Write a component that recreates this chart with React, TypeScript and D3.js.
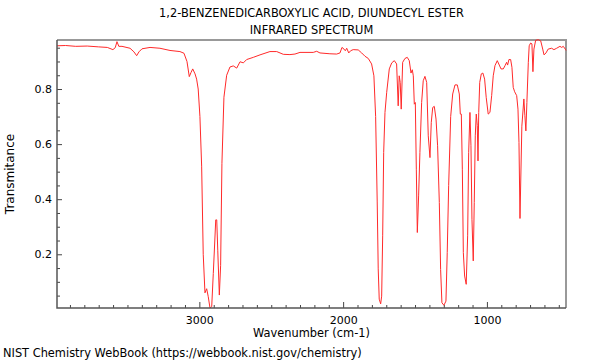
import React, { useRef, useEffect } from 'react';
import * as d3 from 'd3';

// spectrum: wavenumber (cm-1) and transmittance
const wavenumbers = [
  3990, 3930, 3860, 3780, 3700, 3640, 3601, 3585, 3573, 3560, 3538, 3482, 3455, 3436, 3420, 3399,
  3343, 3274, 3204, 3135, 3107, 3086, 3070, 3058, 3046, 3030, 3019, 3008, 2996, 2984, 2973, 2961,
  2949, 2938, 2926, 2914, 2903, 2886, 2879, 2872, 2861, 2852, 2843, 2829, 2810, 2787, 2764, 2740,
  2717, 2694, 2671, 2625, 2578, 2509, 2462, 2416, 2370, 2335, 2300, 2208, 2184, 2161, 2092, 2045,
  2022, 2008, 1994, 1985, 1975, 1961, 1948, 1930, 1895, 1871, 1848, 1825, 1802, 1786, 1774, 1763,
  1756, 1749, 1739, 1732, 1725, 1718, 1709, 1697, 1679, 1662, 1644, 1628, 1617, 1610, 1603, 1596,
  1586, 1570, 1554, 1540, 1528, 1519, 1512, 1505, 1498, 1491, 1484, 1475, 1466, 1454, 1443, 1431,
  1419, 1408, 1396, 1387, 1377, 1366, 1354, 1343, 1331, 1322, 1313, 1299, 1285, 1276, 1266, 1252,
  1238, 1222, 1206, 1192, 1185, 1178, 1171, 1164, 1155, 1144, 1134, 1127, 1118, 1111, 1104, 1095,
  1088, 1081, 1074, 1067, 1062, 1057, 1050, 1039, 1028, 1016, 1005, 991, 979, 967, 956, 944,
  928, 914, 902, 886, 874, 863, 856, 847, 835, 826, 817, 807, 793, 784, 777, 770,
  757, 743, 736, 729, 722, 712, 706, 696, 687, 680, 673, 661, 643, 626, 612, 603,
  589, 574, 550, 534, 515, 492, 480, 469, 455, 450,
];
const transmittance = [
  0.957, 0.958, 0.955, 0.956, 0.953, 0.951, 0.943, 0.95, 0.972, 0.955, 0.955, 0.948, 0.935, 0.921, 0.935, 0.946,
  0.951, 0.948, 0.94, 0.936, 0.93, 0.9, 0.845, 0.86, 0.873, 0.855, 0.836, 0.8, 0.7, 0.52, 0.2, 0.06,
  0.075, 0.046, 0.005, 0.01, 0.13, 0.325, 0.325, 0.215, 0.052, 0.16, 0.53, 0.77, 0.85, 0.88, 0.884, 0.876,
  0.899, 0.895, 0.907, 0.915, 0.924, 0.936, 0.936, 0.926, 0.925, 0.927, 0.933, 0.933, 0.937, 0.931, 0.928, 0.927,
  0.931, 0.951, 0.945, 0.939, 0.948, 0.931, 0.939, 0.943, 0.942, 0.931, 0.919, 0.911, 0.891, 0.848, 0.7, 0.39,
  0.147, 0.037, 0.02, 0.048, 0.267, 0.57, 0.715, 0.788, 0.873, 0.895, 0.903, 0.891, 0.739, 0.848, 0.824, 0.727,
  0.897, 0.911, 0.915, 0.903, 0.858, 0.87, 0.848, 0.745, 0.751, 0.509, 0.279, 0.412, 0.569, 0.751, 0.83, 0.846,
  0.824, 0.63, 0.551, 0.679, 0.733, 0.737, 0.691, 0.594, 0.388, 0.145, 0.024, 0.015, 0.03, 0.206, 0.45, 0.7,
  0.782, 0.815, 0.815, 0.782, 0.709, 0.709, 0.509, 0.206, 0.121, 0.091, 0.267, 0.569, 0.715, 0.594, 0.327, 0.176,
  0.388, 0.63, 0.709, 0.667, 0.539, 0.715, 0.824, 0.855, 0.858, 0.836, 0.77, 0.709, 0.715, 0.776, 0.848, 0.885,
  0.903, 0.887, 0.873, 0.873, 0.885, 0.897, 0.887, 0.907, 0.907, 0.879, 0.806, 0.79, 0.776, 0.727, 0.606, 0.33,
  0.665, 0.764, 0.703, 0.648, 0.751, 0.897, 0.957, 0.967, 0.964, 0.863, 0.945, 0.977, 0.979, 0.975, 0.945, 0.924,
  0.931, 0.945, 0.948, 0.943, 0.948, 0.955, 0.951, 0.955, 0.945, 0.94,
];

const xMajorTicks = [3000, 2000, 1000];
const yMajorTicks = [0.2, 0.4, 0.6, 0.8];
const titleLines = ['1,2-BENZENEDICARBOXYLIC ACID, DIUNDECYL ESTER', 'INFRARED SPECTRUM'];

const App = () => {
  const ref = useRef<SVGSVGElement>(null);

  useEffect(() => {
    const left = 57, right = 566, top = 40, bottom = 308;
    const font = 'DejaVu Sans, sans-serif';
    const fs = '11.4px';

    const svg = d3.select(ref.current);
    svg.selectAll('*').remove();

    const x = d3.scaleLinear().domain([3990, 450]).range([left, right]);
    const y = d3.scaleLinear().domain([0.005, 0.978]).range([bottom, top]);

    // title
    svg.append('g')
      .selectAll('text')
      .data(titleLines)
      .enter()
      .append('text')
      .attr('x', (left + right) / 2)
      .attr('y', (d, i) => 17 + i * 17)
      .attr('text-anchor', 'middle')
      .style('font-family', font)
      .style('font-size', fs)
      .text((d) => d);

    // top + right frame (light)
    svg.append('path')
      .attr('d', `M${left},${top}H${right}V${bottom}`)
      .attr('fill', 'none')
      .attr('stroke', '#999')
      .attr('stroke-width', 2);

    // spectrum
    const pts = wavenumbers.map((w, i) => [w, transmittance[i]] as [number, number]);
    const line = d3.line<[number, number]>()
      .x((d) => x(d[0]))
      .y((d) => y(d[1]));
    svg.append('path')
      .datum(pts)
      .attr('d', line)
      .attr('fill', 'none')
      .attr('stroke', '#ff2a2a')
      .attr('stroke-width', 1)
      .attr('stroke-linejoin', 'round');

    // x axis, ticks pointing into the plot
    const xMinor = d3.range(500, 4000, 100).filter((v) => v <= 3990 && !xMajorTicks.includes(v));
    const gx = svg.append('g').attr('transform', `translate(0,${bottom})`);
    gx.call(d3.axisTop(x).tickValues(xMinor).tickSize(3).tickFormat(() => '').tickSizeOuter(0));
    gx.select('.domain').remove();
    const gx2 = svg.append('g').attr('transform', `translate(0,${bottom})`);
    gx2.call(d3.axisTop(x).tickValues(xMajorTicks).tickSize(6).tickFormat(d3.format('d')).tickSizeOuter(0));
    gx2.select('.domain').remove();
    gx2.selectAll('text')
      .attr('y', 15.5)
      .attr('dy', 0)
      .style('font-family', font)
      .style('font-size', '11px')
      .attr('fill', '#000');

    // y axis, ticks pointing into the plot
    const yMinor = d3.range(1, 20).map((k) => k * 0.05).filter((v) => !yMajorTicks.some((m) => Math.abs(m - v) < 1e-6));
    const gy = svg.append('g').attr('transform', `translate(${left},0)`);
    gy.call(d3.axisRight(y).tickValues(yMinor).tickSize(3).tickFormat(() => '').tickSizeOuter(0));
    gy.select('.domain').remove();
    const gy2 = svg.append('g').attr('transform', `translate(${left},0)`);
    gy2.call(d3.axisRight(y).tickValues(yMajorTicks).tickSize(5).tickFormat(d3.format('.1f')).tickSizeOuter(0));
    gy2.select('.domain').remove();
    gy2.selectAll('text')
      .attr('x', -5)
      .attr('text-anchor', 'end')
      .style('font-family', font)
      .style('font-size', '11px')
      .attr('fill', '#000');

    svg.selectAll('.tick line').attr('stroke', '#444');

    // left + bottom axis lines
    svg.append('path')
      .attr('d', `M${left},${top}V${bottom}H${right}`)
      .attr('fill', 'none')
      .attr('stroke', '#555')
      .attr('stroke-width', 1.5);

    svg.append('text')
      .attr('x', (left + right) / 2)
      .attr('y', 336.5)
      .attr('text-anchor', 'middle')
      .style('font-family', font)
      .style('font-size', fs)
      .text('Wavenumber (cm-1)');

    svg.append('text')
      .attr('transform', `translate(14,${(top + bottom) / 2}) rotate(-90)`)
      .attr('text-anchor', 'middle')
      .style('font-family', font)
      .style('font-size', '12px')
      .text('Transmitance');

    svg.append('text')
      .attr('x', 3)
      .attr('y', 357)
      .style('font-family', font)
      .style('font-size', fs)
      .text('NIST Chemistry WebBook (https://webbook.nist.gov/chemistry)');
  }, []);

  return (
    <svg
      ref={ref}
      width={600}
      height={360}
      style={{ position: 'absolute', left: 0, top: 0, background: '#fff' }}
    />
  );
};

export default App;
